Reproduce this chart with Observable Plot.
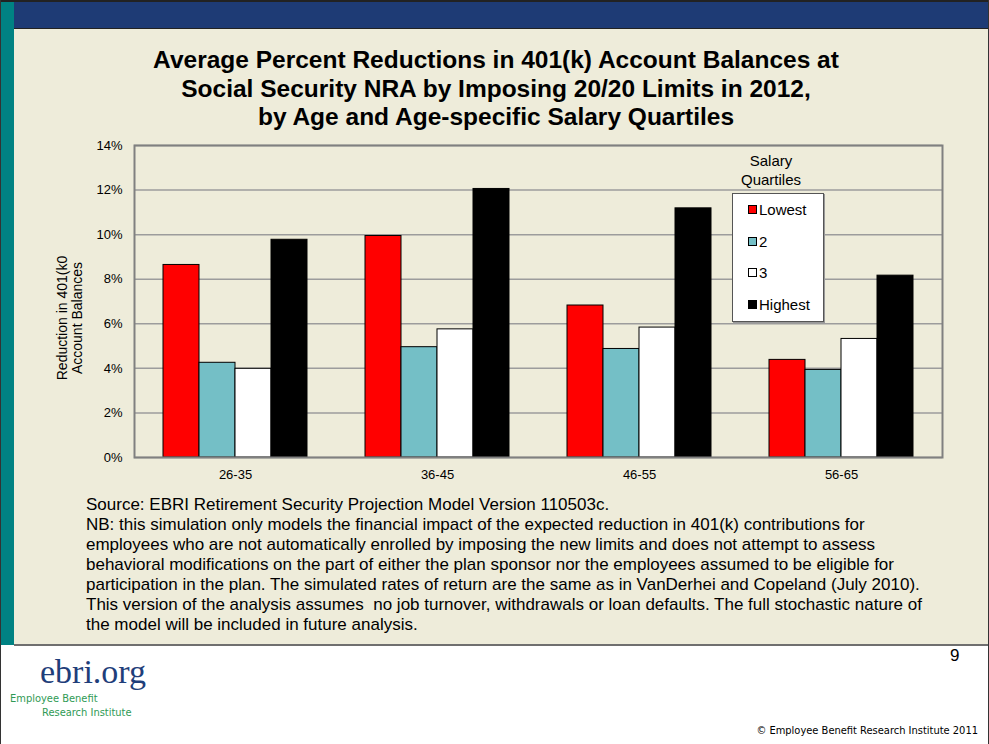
<!DOCTYPE html>
<html>
<head>
<meta charset="utf-8">
<script src="https://cdn.jsdelivr.net/npm/d3@7"></script>
<script src="https://cdn.jsdelivr.net/npm/@observablehq/plot@0.6"></script>
<style>
  html, body { margin: 0; padding: 0; background: #ffffff; }
  body { width: 989px; height: 744px; overflow: hidden; font-family: "Liberation Sans", Arial, sans-serif; }
  #slide { position: relative; width: 989px; height: 744px; background: #ffffff; box-sizing: border-box; }
  .abs { position: absolute; }
  #teal { left: 0; top: 0; width: 14px; height: 645px; background: #008283; }
  #blue { left: 14px; top: 2px; right: 0; height: 26px; background: #1e3b75; border-bottom: 1px solid #222; }
  #topline { left: 0; top: 0; right: 0; height: 2px; background: #222; }
  #beige { left: 14px; top: 29px; right: 0; height: 615px; background: #eeecda; }
  #sep { left: 14px; top: 644px; right: 0; height: 2px; background: #6f6f6f; }
  #lborder { left: 0; top: 0; width: 1px; height: 744px; background: #333; }
  #rborder { right: 0; top: 0; width: 1px; height: 744px; background: #333; }
  #title { left: 0; width: 992px; top: 46px; text-align: center; font-weight: bold; font-size: 24.5px; line-height: 28.5px; color: #000; }
  #chart { left: 0; top: 130px; }
  #ylab { left: 70px; top: 318px; width: 200px; margin-left: -100px; margin-top: -15px; text-align: center; font-size: 14px; line-height: 15px; transform: rotate(-90deg); color: #000; }
  #legtitle { left: 721px; width: 100px; top: 151px; text-align: center; font-size: 15px; line-height: 19px; color: #000; }
  #legbox { left: 732px; top: 193px; width: 90px; height: 127px; background: #fff; border: 1px solid #555; box-shadow: 1px 1px 0 #999; }
  .leg { position: absolute; left: 15px; font-size: 15px; line-height: 18px; color: #000; white-space: nowrap; }
  .sw { display: inline-block; width: 7px; height: 7px; border: 1px solid #000; margin-right: 2px; vertical-align: 1px; }
  #note { left: 86px; top: 495px; font-size: 17px; line-height: 20px; color: #000; white-space: pre; }
  #logo { left: 40px; top: 654px; font-family: "Liberation Serif", "DejaVu Serif", serif; font-size: 34px; color: #1f3e7a; line-height: 36px; }
  #logo1 { left: 10px; top: 692px; font-size: 11px; color: #2f9a55; font-family: "DejaVu Sans Condensed", "Liberation Sans Narrow", sans-serif; }
  #logo2 { left: 42px; top: 706px; font-size: 11px; color: #2f9a55; font-family: "DejaVu Sans Condensed", "Liberation Sans Narrow", sans-serif; }
  #page { left: 950px; top: 646px; font-size: 17px; color: #000; }
  #copy { right: 11px; top: 724px; font-size: 11px; color: #000; font-family: "DejaVu Sans Condensed", "Liberation Sans Narrow", sans-serif; }
</style>
</head>
<body>
<div id="slide">
  <div id="beige" class="abs"></div>
  <div id="teal" class="abs"></div>
  <div id="topline" class="abs"></div>
  <div id="blue" class="abs"></div>
  <div id="sep" class="abs"></div>
  <div id="lborder" class="abs"></div>
  <div id="rborder" class="abs"></div>
  <div id="title" class="abs">Average Percent Reductions in 401(k) Account Balances at<br>Social Security NRA by Imposing 20/20 Limits in 2012,<br>by Age and Age-specific Salary Quartiles</div>
  <div id="chart" class="abs"></div>
  <div id="ylab" class="abs">Reduction in 401(k0<br>Account Balances</div>
  <div id="legtitle" class="abs">Salary<br>Quartiles</div>
  <div id="legbox" class="abs"></div>
  <div id="note" class="abs"></div>
  <div id="logo" class="abs">ebri.org</div>
  <div id="logo1" class="abs">Employee Benefit</div>
  <div id="logo2" class="abs">Research Institute</div>
  <div id="page" class="abs">9</div>
  <div id="copy" class="abs">© Employee Benefit Research Institute 2011</div>
</div>
<script>
// ---- data ----
const ageGroups = ["26-35", "36-45", "46-55", "56-65"];
const quartiles = ["Lowest", "2", "3", "Highest"];
const lowest  = [8.64, 9.94, 6.82, 4.38];
const second  = [4.25, 4.95, 4.87, 3.93];
const third   = [3.98, 5.75, 5.83, 5.32];
const highest = [9.77, 12.05, 11.18, 8.16];
const yTicks = [0, 2, 4, 6, 8, 10, 12, 14];
const quartileColors = ["#ff0000", "#74bfc6", "#ffffff", "#000000"];
const noteLines = [
  "Source: EBRI Retirement Security Projection Model Version 110503c.",
  "NB: this simulation only models the financial impact of the expected reduction in 401(k) contributions for",
  "employees who are not automatically enrolled by imposing the new limits and does not attempt to assess",
  "behavioral modifications on the part of either the plan sponsor nor the employees assumed to be eligible for",
  "participation in the plan. The simulated rates of return are the same as in VanDerhei and Copeland (July 2010).",
  "This version of the analysis assumes  no job turnover, withdrawals or loan defaults. The full stochastic nature of",
  "the model will be included in future analysis."
];

const series = [lowest, second, third, highest];
const rows = ageGroups.flatMap((age, i) =>
  series.map((s, j) => ({age, quartile: quartiles[j], value: s[i]}))
);

const chart = Plot.plot({
  width: 989,
  height: 360,
  marginLeft: 133,
  marginRight: 47,
  marginTop: 15,
  marginBottom: 33,
  style: {background: "transparent", fontFamily: "'Liberation Sans', Arial, sans-serif", fontSize: "13px", color: "#000"},
  fx: {domain: ageGroups, padding: 0, axis: "bottom", label: null, tickSize: 0, tickPadding: 12, fontSize: 14},
  x: {domain: quartiles, paddingInner: 0, paddingOuter: 0.755, axis: null},
  y: {domain: [0, 14], ticks: yTicks, tickFormat: d => d + "%", label: null, tickSize: 0, tickPadding: 12},
  color: {domain: quartiles, range: quartileColors},
  marks: [
    Plot.gridY(yTicks, {stroke: "#9c9c9c", strokeOpacity: 1, strokeWidth: 1.5}),
    Plot.barY(rows, {fx: "age", x: "quartile", y: "value", fill: "quartile", stroke: "#000", strokeWidth: 1}),
    Plot.frame({facet: "super", stroke: "#808080", strokeWidth: 2})
  ]
});
document.getElementById("chart").appendChild(chart);

// legend (HTML)
const box = document.getElementById("legbox");
quartiles.forEach((q, i) => {
  const row = document.createElement("div");
  row.className = "leg";
  row.style.top = (7 + i * 31.7) + "px";
  const sw = document.createElement("span");
  sw.className = "sw";
  sw.style.background = quartileColors[i];
  row.appendChild(sw);
  row.appendChild(document.createTextNode(q));
  box.appendChild(row);
});

document.getElementById("note").textContent = noteLines.join("\n");
</script>
</body>
</html>
